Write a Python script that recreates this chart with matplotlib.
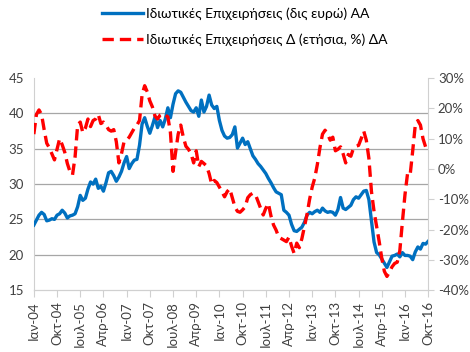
import numpy as np
import pandas as pd
import matplotlib
matplotlib.use("Agg")
import matplotlib.pyplot as plt

plt.rcParams['font.family'] = ['Lato', 'DejaVu Sans']

# Υπόλοιπα δανείων ιδιωτικών επιχειρήσεων (δισ. ευρώ), μηνιαία Ιαν-04 .. Οκτ-16
balance = [
    24.2, 24.9, 25.6, 26.0, 25.7, 24.8, 24.9, 25.1, 25.0, 25.6, 25.8, 26.3,  # 2004
    25.9, 25.2, 25.5, 25.6, 25.8, 26.8, 28.4, 27.7, 28.0, 29.3, 30.3, 30.0,  # 2005
    30.7, 29.4, 29.7, 29.0, 30.2, 31.6, 31.8, 31.2, 30.4, 31.0, 31.8, 33.0,  # 2006
    33.9, 32.2, 32.9, 33.4, 33.5, 35.5, 38.5, 39.4, 38.2, 37.2, 38.3, 39.5,  # 2007
    38.0, 39.0, 38.1, 39.2, 40.8, 39.4, 41.3, 42.8, 43.2, 43.0, 42.3, 41.6,  # 2008
    41.0, 40.4, 40.2, 40.8, 39.6, 41.9, 40.2, 41.0, 42.6, 41.2, 40.7, 41.0,  # 2009
    39.0, 37.6, 36.8, 36.5, 36.6, 37.0, 38.1, 35.1, 35.8, 36.5, 35.6, 36.0,  # 2010
    35.0, 34.0, 33.5, 32.9, 32.5, 32.0, 31.5, 30.8, 30.2, 29.5, 28.9, 28.7,  # 2011
    28.5, 26.3, 26.0, 25.6, 24.3, 23.4, 23.3, 23.6, 23.9, 24.6, 25.6, 26.0,  # 2012
    25.8, 26.1, 26.3, 26.0, 26.6, 26.2, 26.0, 26.1, 26.0, 25.6, 26.4, 28.1,  # 2013
    26.6, 26.4, 26.7, 27.0, 27.8, 28.2, 28.0, 28.5, 29.0, 29.1, 27.8, 24.8,  # 2014
    21.8, 20.3, 20.0, 19.4, 18.8, 18.2, 19.0, 19.8, 19.9, 20.1, 19.7, 20.3,  # 2015
    19.9, 19.9, 19.8, 19.3, 20.4, 21.1, 20.8, 21.6, 21.5, 21.9,              # 2016
]

# Ετήσια μεταβολή (%)
growth = [
    11.5, 18.0, 19.5, 18.0, 13.0, 8.5, 7.0, 5.0, 3.0, 6.5, 10.0, 8.0,
    5.5, 1.8, -0.8, -2.0, 4.0, 14.5, 15.5, 12.0, 13.5, 16.5, 14.0, 16.0,
    16.5, 18.0, 15.0, 15.5, 14.5, 13.0, 12.5, 13.0, 9.0, 2.0, 5.0, 9.0,
    9.5, 10.5, 12.0, 13.5, 14.5, 16.0, 24.5, 27.5, 25.5, 22.5, 20.5, 17.5,
    16.5, 17.8, 18.3, 17.8, 17.2, 12.0, -0.8, 5.5, 11.5, 14.5, 10.5, 7.5,
    6.5, 5.0, 2.0, 6.0, 0.8, 2.5, 1.8, 1.0, -1.5, -5.0, -3.8, -4.5,
    -6.0, -7.5, -9.2, -7.5, -6.5, -9.5, -12.5, -14.0, -14.3, -13.5, -12.5, -9.5,
    -8.5, -8.0, -8.5, -10.8, -13.0, -15.2, -13.0, -11.4, -15.5, -18.5, -20.2, -22.5,
    -23.0, -23.5, -24.0, -22.5, -25.5, -27.9, -24.5, -26.0, -23.0, -19.0, -15.0, -10.0,
    -6.0, -3.0, 1.5, 7.0, 11.5, 12.8, 11.5, 9.5, 10.5, 6.0, 6.5, 7.3,
    5.0, 2.0, 4.8, 4.2, 6.8, 7.5, 7.8, 10.0, 12.5, 9.5, 3.5, -7.5,
    -14.0, -19.0, -24.0, -29.5, -33.8, -35.5, -34.0, -32.3, -31.2, -30.8, -27.0, -17.5,
    -8.5, -1.5, -2.0, 6.0, 14.5, 16.0, 14.5, 10.0, 7.3, 8.4,
]

month_names = {1: 'Ιαν', 4: 'Απρ', 7: 'Ιουλ', 10: 'Οκτ'}
dates = pd.date_range('2004-01-01', periods=len(balance), freq='MS')
x = np.arange(len(dates))
tick_pos = x[::9]
tick_labels = [f"{month_names[d.month]}-{d.strftime('%y')}" for d in dates[::9]]

fig = plt.figure(figsize=(4.7, 3.52), dpi=100)
ax1 = fig.add_axes([0.072, 0.176, 0.839, 0.602])
ax2 = ax1.twinx()

blue = '#0070C0'
red = '#FF0000'
grey_txt = '#404040'

l1, = ax1.plot(x, balance, color=blue, lw=2.4, solid_joinstyle='round', zorder=3)
l2, = ax2.plot(x, growth, color=red, lw=2.4, dashes=(3.4, 1.8), zorder=4)
ax2.set_zorder(ax1.get_zorder() + 1)
ax2.patch.set_visible(False)

ax1.set_xlim(0, len(x) - 1)
ax1.set_ylim(15, 45)
ax1.set_yticks(range(15, 46, 5))
ax2.set_ylim(-40, 30)
ax2.set_yticks(range(-40, 31, 10))
ax2.yaxis.set_major_formatter(plt.FuncFormatter(lambda v, p: f"{v:.0f}%"))

for y in range(20, 45, 5):
    ax1.axhline(y, color='#a6a6a6', lw=0.9, zorder=1)

ax1.set_xticks(tick_pos)
ax1.set_xticklabels(tick_labels, rotation=90)

for ax in (ax1, ax2):
    for s in ax.spines.values():
        s.set_color('#d0d0d0')
    ax.spines['top'].set_visible(False)
    ax.tick_params(colors='#d0d0d0', labelcolor=grey_txt, labelsize=9.5, length=4)
ax1.tick_params(axis='y', length=0, pad=7)
ax1.spines['right'].set_visible(False)
ax2.spines['left'].set_visible(False)
ax2.tick_params(axis='y', length=4, pad=3)
ax1.tick_params(axis='x', length=5, pad=3)

fig.legend([l1, l2],
           ['Ιδιωτικές Επιχειρήσεις (δις ευρώ) ΑΑ',
            'Ιδιωτικές Επιχειρήσεις Δ (ετήσια, %) ΔΑ'],
           loc='upper left', bbox_to_anchor=(0.19, 1.015), frameon=False,
           fontsize=10, handlelength=3.0, handletextpad=0.2, labelspacing=0.95,
           labelcolor='black')

fig.savefig('out.png', dpi=100)
